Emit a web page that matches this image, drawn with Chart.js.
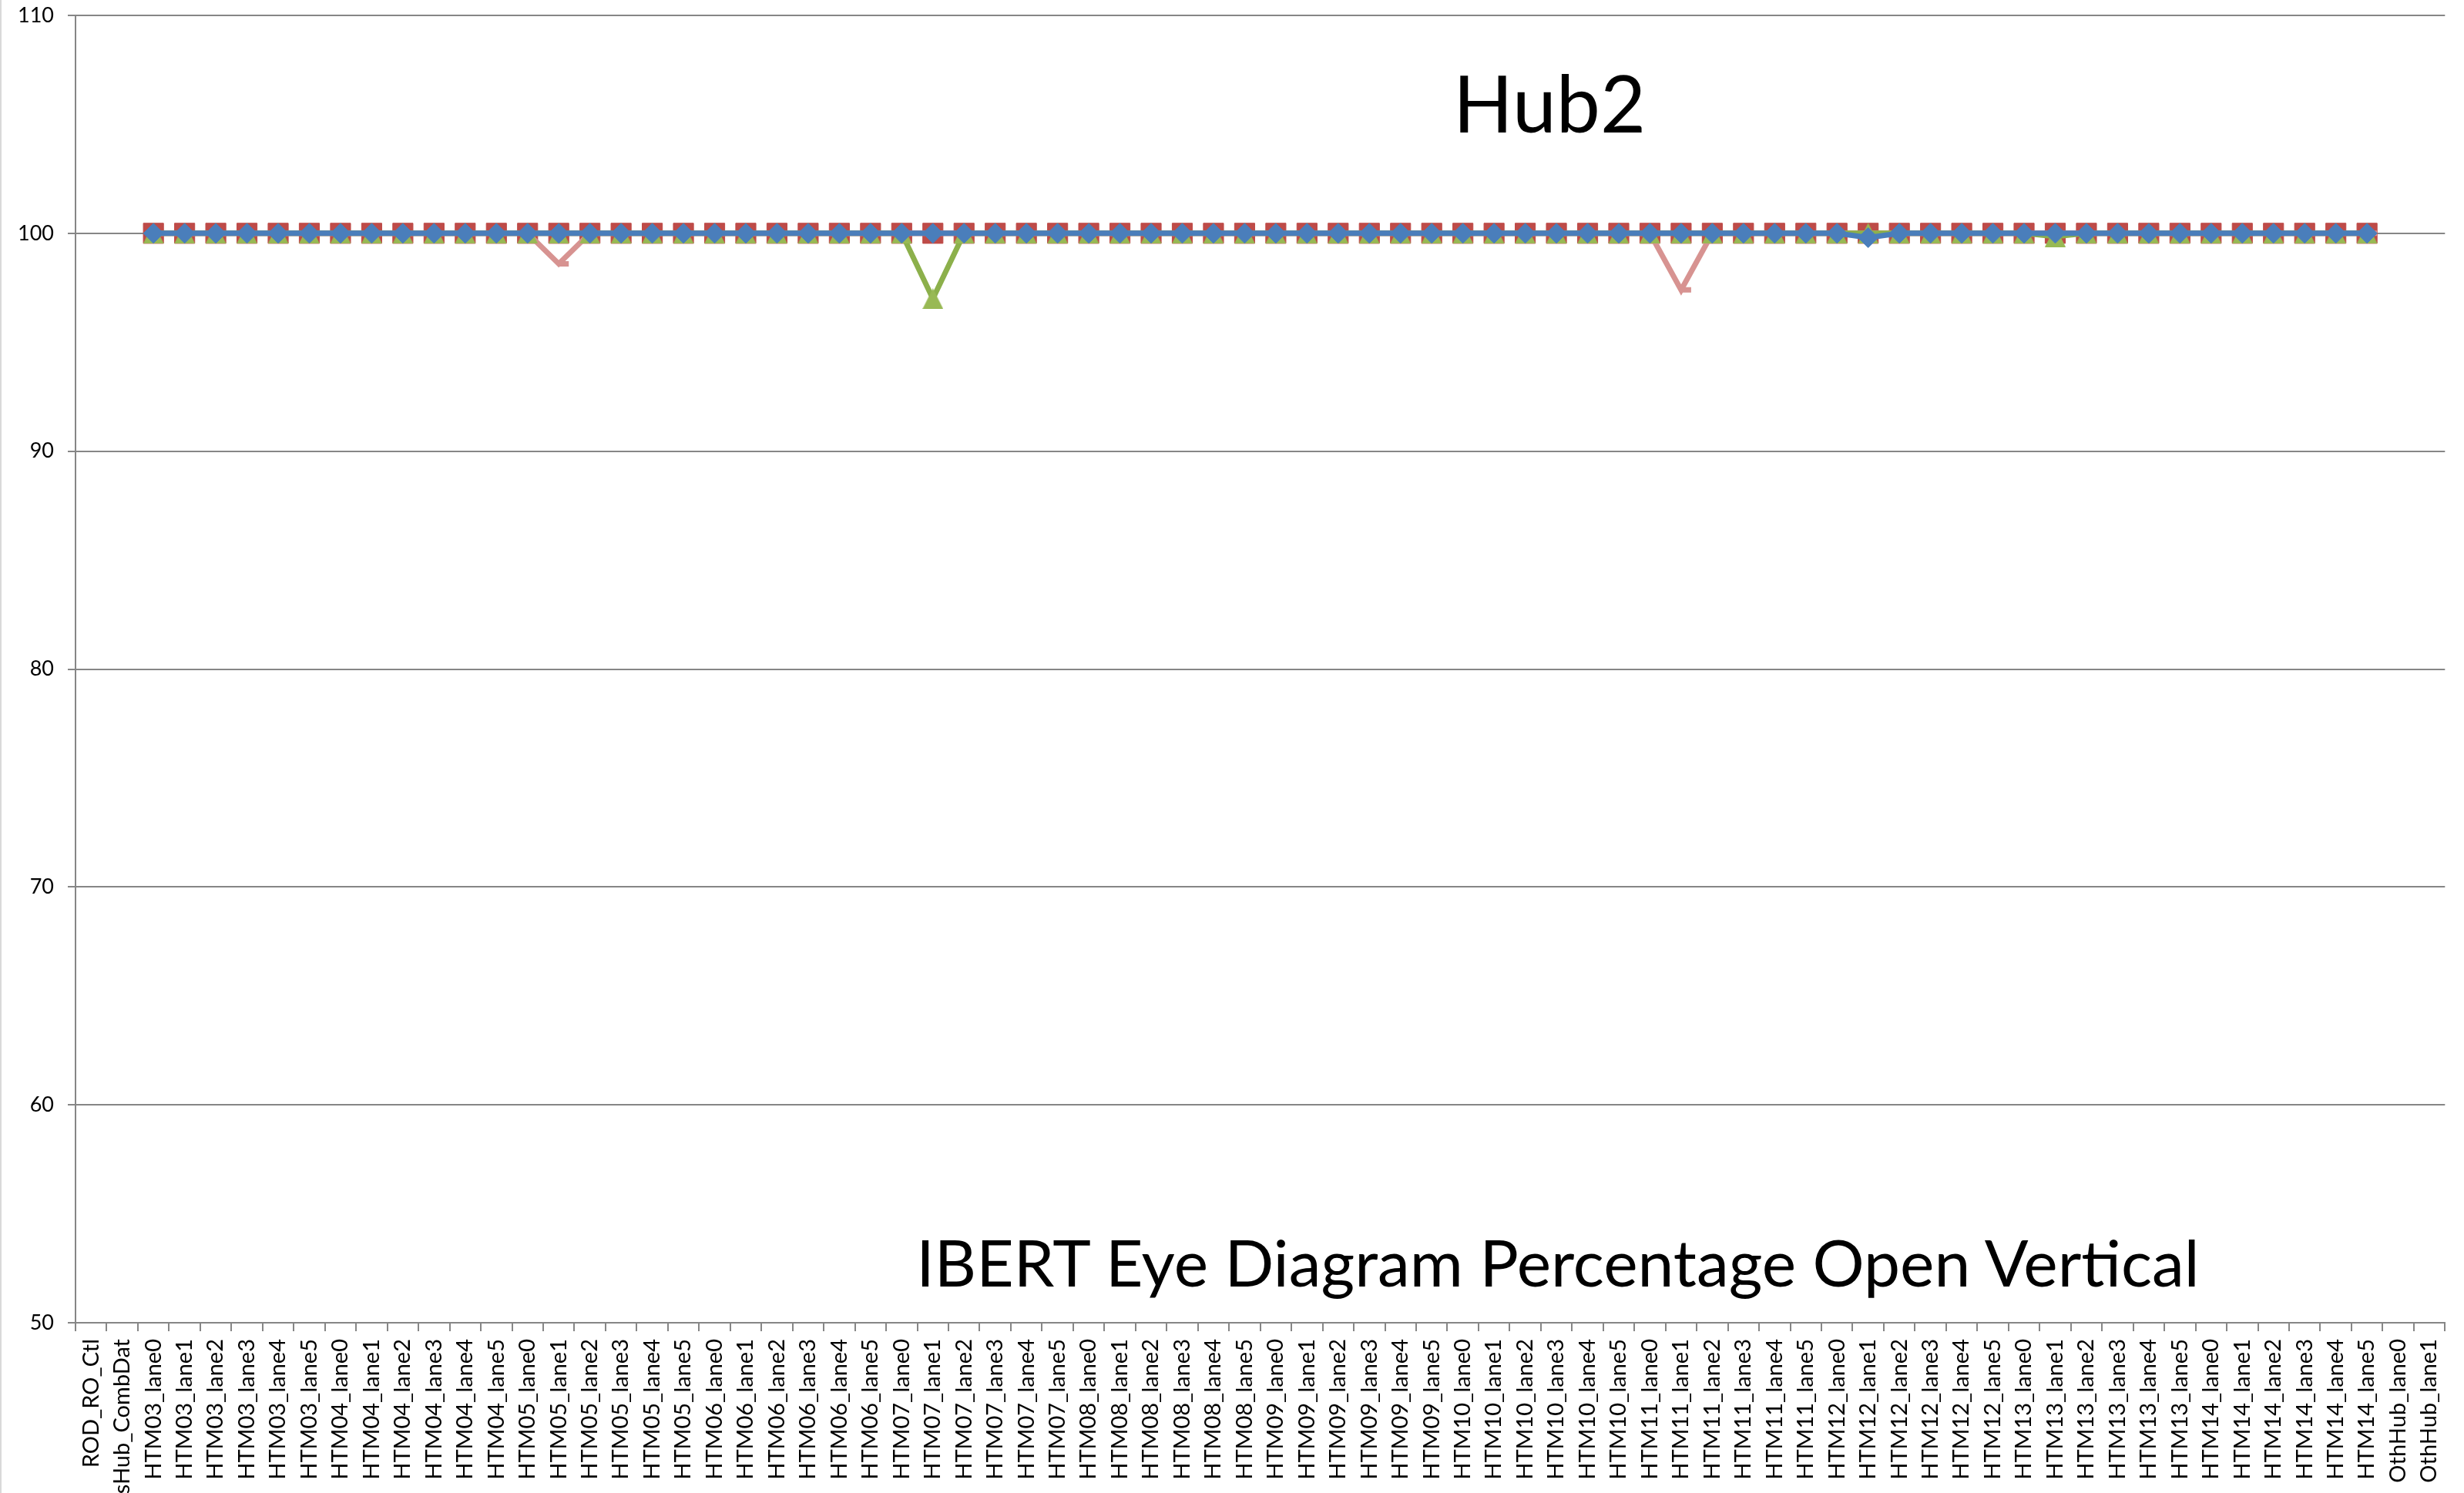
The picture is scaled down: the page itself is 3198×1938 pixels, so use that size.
<!DOCTYPE html>
<html>
<head>
<meta charset="utf-8">
<title>Hub2 - IBERT Eye Diagram Percentage Open Vertical</title>
<script src="https://cdn.jsdelivr.net/npm/chart.js@4.4.1/dist/chart.umd.min.js"></script>
<style>
    html, body { margin: 0; padding: 0; background: #fff; }
    #wrap { position: relative; width: 3198px; height: 1938px; overflow: hidden; }
    #chart { display: block; }
    .frame { position: absolute; left: 0; top: 0; width: 2px; height: 1938px; background: #d9d9d9; }
    .title {
        position: absolute;
        font-family: Lato, "Open Sans", sans-serif;
        color: #000;
        line-height: 1;
        white-space: nowrap;
        transform: translateX(-50%);
    }
    #hubTitle { left: 2011px; top: 82px; font-size: 102px; }
    #axisTitle { left: 2022px; top: 1596px; font-size: 84px; }
</style>
</head>
<body>
<div id="wrap">
    <canvas id="chart" width="3198" height="1938"></canvas>
    <div class="frame"></div>
    <div class="title" id="hubTitle">Hub2</div>
    <div class="title" id="axisTitle">IBERT Eye Diagram Percentage Open Vertical</div>
</div>

<script>
// --- DATA ---

const categories = [
    'ROD_RO_Ctl', 'ThisHub_CombDat',
    'HTM03_lane0', 'HTM03_lane1', 'HTM03_lane2', 'HTM03_lane3', 'HTM03_lane4', 'HTM03_lane5',
    'HTM04_lane0', 'HTM04_lane1', 'HTM04_lane2', 'HTM04_lane3', 'HTM04_lane4', 'HTM04_lane5',
    'HTM05_lane0', 'HTM05_lane1', 'HTM05_lane2', 'HTM05_lane3', 'HTM05_lane4', 'HTM05_lane5',
    'HTM06_lane0', 'HTM06_lane1', 'HTM06_lane2', 'HTM06_lane3', 'HTM06_lane4', 'HTM06_lane5',
    'HTM07_lane0', 'HTM07_lane1', 'HTM07_lane2', 'HTM07_lane3', 'HTM07_lane4', 'HTM07_lane5',
    'HTM08_lane0', 'HTM08_lane1', 'HTM08_lane2', 'HTM08_lane3', 'HTM08_lane4', 'HTM08_lane5',
    'HTM09_lane0', 'HTM09_lane1', 'HTM09_lane2', 'HTM09_lane3', 'HTM09_lane4', 'HTM09_lane5',
    'HTM10_lane0', 'HTM10_lane1', 'HTM10_lane2', 'HTM10_lane3', 'HTM10_lane4', 'HTM10_lane5',
    'HTM11_lane0', 'HTM11_lane1', 'HTM11_lane2', 'HTM11_lane3', 'HTM11_lane4', 'HTM11_lane5',
    'HTM12_lane0', 'HTM12_lane1', 'HTM12_lane2', 'HTM12_lane3', 'HTM12_lane4', 'HTM12_lane5',
    'HTM13_lane0', 'HTM13_lane1', 'HTM13_lane2', 'HTM13_lane3', 'HTM13_lane4', 'HTM13_lane5',
    'HTM14_lane0', 'HTM14_lane1', 'HTM14_lane2', 'HTM14_lane3', 'HTM14_lane4', 'HTM14_lane5',
    'OthHub_lane0', 'OthHub_lane1'
];

// one row per HTM board (lane0..lane5)
const blueValues = [
    null, null,
    100, 100, 100, 100, 100, 100,
    100, 100, 100, 100, 100, 100,
    100, 100, 100, 100, 100, 100,
    100, 100, 100, 100, 100, 100,
    100, 100, 100, 100, 100, 100,
    100, 100, 100, 100, 100, 100,
    100, 100, 100, 100, 100, 100,
    100, 100, 100, 100, 100, 100,
    100, 100, 100, 100, 100, 100,
    100, 99.8, 100, 100, 100, 100,
    100, 100, 100, 100, 100, 100,
    100, 100, 100, 100, 100, 100,
    null, null
];

const redValues = [
    null, null,
    100, 100, 100, 100, 100, 100,
    100, 100, 100, 100, 100, 100,
    100, 100, 100, 100, 100, 100,
    100, 100, 100, 100, 100, 100,
    100, 100, 100, 100, 100, 100,
    100, 100, 100, 100, 100, 100,
    100, 100, 100, 100, 100, 100,
    100, 100, 100, 100, 100, 100,
    100, 100, 100, 100, 100, 100,
    100, 100, 100, 100, 100, 100,
    100, 100, 100, 100, 100, 100,
    100, 100, 100, 100, 100, 100,
    null, null
];

const greenValues = [
    null, null,
    100, 100, 100, 100, 100, 100,
    100, 100, 100, 100, 100, 100,
    100, 100, 100, 100, 100, 100,
    100, 100, 100, 100, 100, 100,
    100, 97.0, 100, 100, 100, 100,
    100, 100, 100, 100, 100, 100,
    100, 100, 100, 100, 100, 100,
    100, 100, 100, 100, 100, 100,
    100, 100, 100, 100, 100, 100,
    100, 100, 100, 100, 100, 100,
    100, 99.85, 100, 100, 100, 100,
    100, 100, 100, 100, 100, 100,
    null, null
];

const pinkValues = [
    null, null,
    100, 100, 100, 100, 100, 100,
    100, 100, 100, 100, 100, 100,
    100, 98.6, 100, 100, 100, 100,
    100, 100, 100, 100, 100, 100,
    100, 100, 100, 100, 100, 100,
    100, 100, 100, 100, 100, 100,
    100, 100, 100, 100, 100, 100,
    100, 100, 100, 100, 100, 100,
    100, 97.4, 100, 100, 100, 100,
    100, 100, 100, 100, 100, 100,
    100, 100, 100, 100, 100, 100,
    100, 100, 100, 100, 100, 100,
    null, null
];

const yTicks = [50, 60, 70, 80, 90, 100, 110];

// --- STYLE ---

const AXIS_GREY = '#868686';
const FONT_FAMILY = 'Lato, "Open Sans", sans-serif';

// Excel-style triangle marker: fills the same box as the square marker
function triangleMarker(size, color) {
    const c = document.createElement('canvas');
    c.width = size;
    c.height = size;
    const ctx = c.getContext('2d');
    ctx.fillStyle = color;
    ctx.beginPath();
    ctx.moveTo(size / 2, 0);
    ctx.lineTo(size, size);
    ctx.lineTo(0, size);
    ctx.closePath();
    ctx.fill();
    return c;
}

function series(values, color, lineColor, style, radius, borderWidth) {
    return {
        data: values,
        borderColor: lineColor,
        borderWidth: 7,
        backgroundColor: color,
        pointStyle: style,
        pointRadius: radius,
        pointBackgroundColor: color,
        pointBorderColor: style === 'dash' ? lineColor : color,
        pointBorderWidth: borderWidth,
        tension: 0,
        spanGaps: false,
        fill: false
    };
}

// first dataset ends up drawn on top
const datasets = [
    series(blueValues, '#4A7EBB', '#4A7EBB', 'rectRot', 13, 1),
    series(greenValues, '#98B954', '#8CB04B', triangleMarker(27, '#98B954'), 14, 0),
    series(pinkValues, '#D79391', '#D79391', 'dash', 13, 7),
    series(redValues, '#BE4B48', '#BE4B48', 'rect', 18.5, 1)
];

// --- CHART ---

new Chart(document.getElementById('chart').getContext('2d'), {
    type: 'line',
    data: { labels: categories, datasets: datasets },
    options: {
        responsive: false,
        animation: false,
        events: [],
        layout: { padding: { top: 15, right: 3, left: 0, bottom: 0 } },
        plugins: {
            legend: { display: false },
            tooltip: { enabled: false }
        },
        scales: {
            x: {
                type: 'category',
                offset: true,
                grid: {
                    offset: true,
                    drawOnChartArea: false,
                    drawTicks: true,
                    tickLength: 11,
                    color: AXIS_GREY,
                    lineWidth: 2
                },
                border: { color: AXIS_GREY, width: 2 },
                ticks: {
                    autoSkip: false,
                    minRotation: 90,
                    maxRotation: 90,
                    padding: 10,
                    color: '#000',
                    font: { family: FONT_FAMILY, size: 29 }
                },
                afterFit(scale) { scale.height = 221; }
            },
            y: {
                min: yTicks[0],
                max: yTicks[yTicks.length - 1],
                afterBuildTicks(scale) { scale.ticks = yTicks.map(v => ({ value: v })); },
                grid: {
                    color: AXIS_GREY,
                    lineWidth: 2,
                    drawTicks: true,
                    tickLength: 10
                },
                border: { color: AXIS_GREY, width: 2 },
                ticks: {
                    padding: 18,
                    color: '#000',
                    font: { family: FONT_FAMILY, size: 27 }
                },
                afterFit(scale) {
                    scale.width = 98;
                    // the top label may poke out above the plot, like the original
                    scale.paddingTop = 0;
                    scale.paddingBottom = 0;
                }
            }
        }
    }
});
</script>
</body>
</html>
